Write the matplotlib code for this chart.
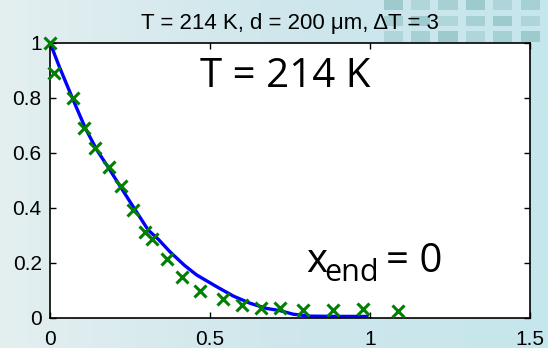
import matplotlib.pyplot as plt
import numpy as np
from matplotlib.patches import Rectangle

# measured profile (crosses)
x_meas = [0, 0.012, 0.071, 0.107, 0.141, 0.185, 0.222, 0.26, 0.297, 0.318,
          0.365, 0.412, 0.469, 0.542, 0.599, 0.658, 0.719, 0.79, 0.885, 0.979, 1.088]
y_meas = [1.0, 0.89, 0.797, 0.688, 0.615, 0.548, 0.48, 0.39, 0.312, 0.284,
          0.213, 0.146, 0.096, 0.066, 0.047, 0.036, 0.034, 0.027, 0.027, 0.03, 0.025]

# simulated profile (line)
x_fit = [0, 0.03, 0.073, 0.11, 0.146, 0.18, 0.219, 0.26, 0.307, 0.339, 0.375,
         0.42, 0.458, 0.521, 0.573, 0.625, 0.677, 0.719, 0.76, 0.8125, 0.9, 0.99]
y_fit = [1, 0.91, 0.79, 0.69, 0.61, 0.55, 0.478, 0.403, 0.318, 0.284, 0.239,
         0.19, 0.155, 0.112, 0.078, 0.052, 0.033, 0.025, 0.012, 0.005, 0.004, 0.004]

xticks = [0, 0.5, 1, 1.5]
yticks = [0, 0.2, 0.4, 0.6, 0.8, 1]
title = 'T = 214 K, d = 200 \u03bcm, \u0394T = 3'

plt.rcParams['font.family'] = ['Liberation Sans', 'DejaVu Sans']

fig = plt.figure(figsize=(5.48, 3.48), dpi=100)
fig.patch.set_facecolor('#d3eaee')

# slide background behind the plot
bg = fig.add_axes([0, 0, 1, 1], zorder=-10)
grad = np.linspace(0, 1, 256)[None, :] * np.ones((64, 1))
bg.imshow(grad, extent=[0, 1, 0, 1], aspect='auto', origin='lower',
          cmap=plt.matplotlib.colors.LinearSegmentedColormap.from_list(
              'bgc', ['#e4eff0', '#cfe7ec', '#c5e6ec']))
for i in range(6):
    for j in range(3):
        bg.add_patch(Rectangle((0.70 + i * 0.05, 0.88 + j * 0.045), 0.035, 0.03,
                               color='#6aa9a8', alpha=0.25 + 0.1 * ((i + j) % 3), lw=0))
bg.set_xlim(0, 1)
bg.set_ylim(0, 1)
bg.axis('off')

ax = fig.add_axes([0.0912, 0.0876, 0.876, 0.790])
ax.set_facecolor('white')
ax.plot(x_fit, y_fit, color='#0000ff', lw=2.4, zorder=2)
ax.plot(x_meas, y_meas, 'x', color='#008000', ms=8, mew=2.2, zorder=3, clip_on=False)

ax.set_xlim(0, 1.5)
ax.set_ylim(0, 1)
ax.set_xticks(xticks)
ax.set_xticklabels(['0', '0.5', '1', '1.5'])
ax.set_yticks(yticks)
ax.set_yticklabels(['0', '0.2', '0.4', '0.6', '0.8', '1'])
ax.tick_params(direction='in', top=True, right=True, length=4, width=1,
               labelsize=15)
ax.tick_params(axis='x', pad=9)
ax.tick_params(axis='y', pad=6)
for s in ax.spines.values():
    s.set_linewidth(1.2)

ax.set_title(title, fontsize=16, pad=10)

big = dict(fontsize=29, family=['Open Sans', 'DejaVu Sans'], color='black',
           transform=ax.transAxes, va='baseline')
ax.text(0.49, 0.839, 'T = 214 K', ha='center', **big)
# x_end = 0, subscript set as a separate smaller text
ax.text(0.534, 0.1665, 'x', ha='left', **big)
ax.text(0.571, 0.133, 'end', ha='left', va='baseline', fontsize=22,
        family=['Open Sans', 'DejaVu Sans'], transform=ax.transAxes)
ax.text(0.70, 0.1665, '= 0', ha='left', **big)

fig.savefig('out.png', dpi=100, facecolor=fig.get_facecolor())
